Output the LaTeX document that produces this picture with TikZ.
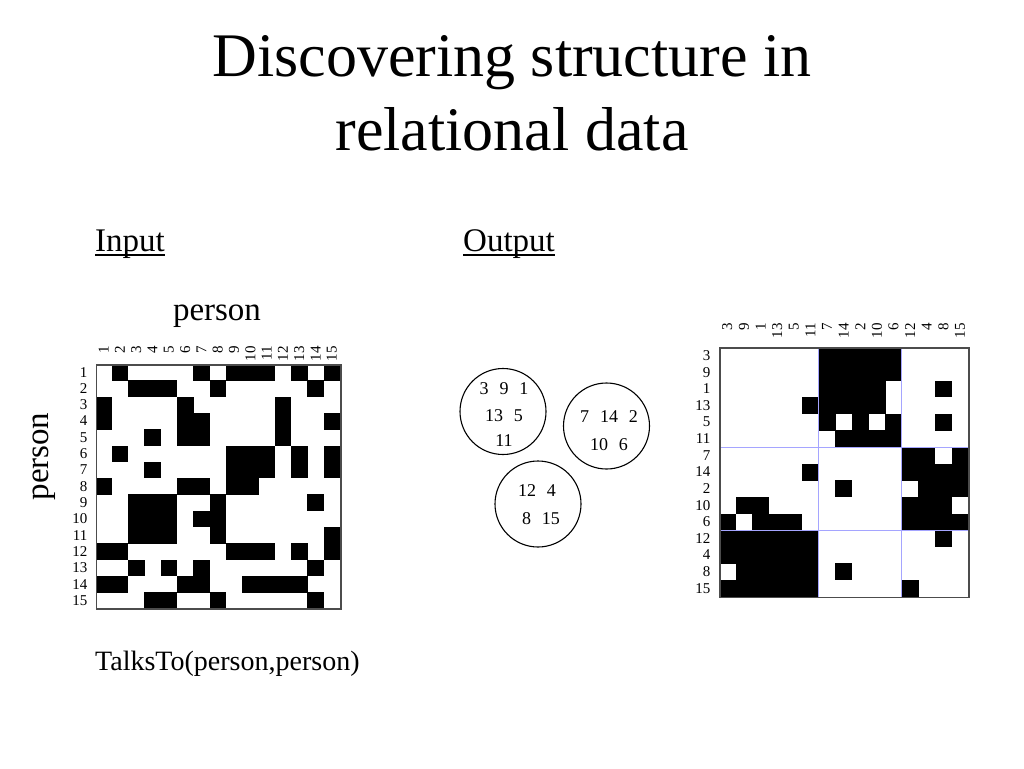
\documentclass[tikz,border=0pt]{standalone}
\usepackage{fontspec}
\setmainfont{Liberation Serif}
\begin{document}
\begin{tikzpicture}[x=1pt,y=-1pt,
  lbl/.style={font=\fontsize{15}{15}\selectfont, inner sep=0pt},
  big/.style={font=\fontsize{33}{36}\selectfont, inner sep=0pt},
  ttl/.style={font=\fontsize{62}{73}\selectfont, inner sep=0pt, anchor=base},
  frame/.style={draw=black!70, line width=1.5pt, inner sep=0pt, anchor=north west},
  cluster/.style={circle, draw, line width=1.1pt, minimum size=86pt, inner sep=0pt},
  ctext/.style={font=\fontsize{18}{18}\selectfont, inner sep=0pt, anchor=base},
  sep/.style={draw={rgb,255:red,165;green,165;blue,255}, line width=0.9pt}]
\useasboundingbox[fill=white] (0,0) rectangle (1024,768);

% title
\node[ttl] (title1) at (512,77) {Discovering structure in};
\node[ttl] (title2) at (512,150) {relational data};

% headings
\node[big, anchor=base west] (input) at (95,251) {Input};
\draw[line width=1.4pt] ([yshift=-4pt]input.base west) -- ([yshift=-4pt]input.base east);
\node[big, anchor=base west] (output) at (463,251) {Output};
\draw[line width=1.4pt] ([yshift=-4pt]output.base west) -- ([yshift=-4pt]output.base east);

\node[big, anchor=base] (ptop) at (217,320) {person};
\node[big, anchor=base, rotate=90] (pleft) at (48,456.5) {person};
\node[font=\fontsize{28}{30}\selectfont, anchor=base west, inner sep=0pt] (rel) at (95,670) {TalksTo(person,person)};

% ---------- input matrix ----------
\def\cL{16.3}
\foreach \r [count=\i] in {{2,7,9,10,11,13,15},{3,4,5,8,14},{1,6,12},{1,6,7,12,15},{4,6,7,12},
  {2,9,10,11,13,15},{4,9,10,11,13,15},{1,6,7,9,10},{3,4,5,8,14},{3,4,5,7,8},
  {3,4,5,8,15},{1,2,9,10,11,13,15},{3,5,7,14},{1,2,6,7,10,11,12,13},{4,5,8,14}}{
  \foreach \j in \r {
    \fill ({95.5+(\j-1)*\cL},{364+(\i-1)*\cL}) rectangle ++(\cL+0.3,\cL+0.3);
  }
}
\node[frame, minimum width=244.5pt, minimum height=244pt] (inmat) at (95.5,364) {};
\foreach \k in {1,...,15} {
  \node[lbl, anchor=east] (lr\k) at (87.5,{364+(\k-0.5)*\cL}) {\k};
  \node[lbl, anchor=east, rotate=90] (lc\k) at ({95.5+(\k-0.5)*\cL},346) {\k};
}

% ---------- clusters ----------
\node[cluster] (g1) at (503,411.5) {};
\node[cluster] (g2) at (606.5,426) {};
\node[cluster] (g3) at (538,504) {};
\node[ctext] (g1a) at (504,394) {3\hspace{0.6em}9\hspace{0.6em}1};
\node[ctext] (g1b) at (504,421.7) {13\hspace{0.6em}5};
\node[ctext] (g1c) at (504,446.7) {11};
\node[ctext] (g2a) at (609,422.3) {7\hspace{0.6em}14\hspace{0.6em}2};
\node[ctext] (g2b) at (609,450) {10\hspace{0.6em}6};
\node[ctext] (g3a) at (537,496.7) {12\hspace{0.6em}4};
\node[ctext] (g3b) at (541,524.3) {8\hspace{0.6em}15};

% ---------- output matrix ----------
\def\cR{16.62}
\foreach \r [count=\i] in {{7,8,9,10,11},{7,8,9,10,11},{7,8,9,10,14},{6,7,8,9,10},{7,9,11,14},
  {8,9,10,11},{12,13,15},{6,12,13,14,15},{8,13,14,15},{2,3,12,13,14},
  {1,3,4,5,12,13,14,15},{1,2,3,4,5,6,14},{1,2,3,4,5,6},{2,3,4,5,6,8},{1,2,3,4,5,6,12}}{
  \foreach \j in \r {
    \fill ({719+(\j-1)*\cR},{347.3+(\i-1)*\cR}) rectangle ++(\cR+0.3,\cR+0.3);
  }
}
\coordinate (v1a) at ({719+6*\cR},347.3);
\coordinate (v1b) at ({719+6*\cR},{347.3+15*\cR});
\coordinate (v2a) at ({719+11*\cR},347.3);
\coordinate (v2b) at ({719+11*\cR},{347.3+15*\cR});
\coordinate (h1a) at (719,{347.3+6*\cR});
\coordinate (h1b) at ({719+15*\cR},{347.3+6*\cR});
\coordinate (h2a) at (719,{347.3+11*\cR});
\coordinate (h2b) at ({719+15*\cR},{347.3+11*\cR});
\draw[sep] (v1a) -- (v1b);
\draw[sep] (v2a) -- (v2b);
\draw[sep] (h1a) -- (h1b);
\draw[sep] (h2a) -- (h2b);
\node[frame, minimum width=249.3pt, minimum height=249.3pt] (outmat) at (719,347.3) {};
\foreach \lab [count=\k] in {3,9,1,13,5,11,7,14,2,10,6,12,4,8,15} {
  \node[lbl, anchor=east] (rr\k) at (710.5,{347.3+(\k-0.5)*\cR}) {\lab};
  \node[lbl, anchor=east, rotate=90] (rc\k) at ({719+(\k-0.5)*\cR},323) {\lab};
}
\end{tikzpicture}
\end{document}
